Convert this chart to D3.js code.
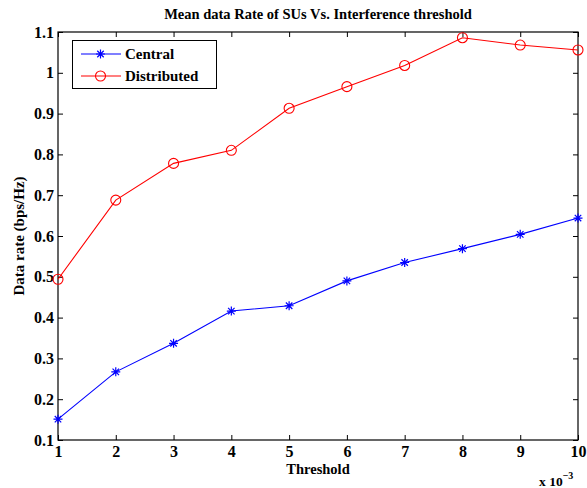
<!DOCTYPE html>
<html>
<head>
<meta charset="utf-8">
<script src="https://cdn.jsdelivr.net/npm/d3@7"></script>
<style>
  html, body { margin: 0; padding: 0; background: #fff; }
  svg { display: block; }
  text { font-family: "Liberation Serif", "Times New Roman", serif; font-weight: bold; fill: #000; }
</style>
</head>
<body>
<svg id="chart" width="587" height="488"></svg>
<script>
// Threshold values (x 10^-3)
const thresholds = [1, 2, 3, 4, 5, 6, 7, 8, 9, 10];
// Mean data rate (bps/Hz)
const centralRate = [0.151, 0.267, 0.337, 0.416, 0.429, 0.490, 0.535, 0.569, 0.604, 0.644];
const distributedRate = [0.494, 0.688, 0.778, 0.810, 0.913, 0.966, 1.018, 1.086, 1.068, 1.056];
const xTicks = [1, 2, 3, 4, 5, 6, 7, 8, 9, 10];
const yTicks = [0.1, 0.2, 0.3, 0.4, 0.5, 0.6, 0.7, 0.8, 0.9, 1.0, 1.1];
const seriesNames = ["Central", "Distributed"];

const svg = d3.select("#chart");
const m = { left: 58, right: 578, top: 32, bottom: 440 };

const x = d3.scaleLinear().domain([1, 10]).range([m.left, m.right]);
const y = d3.scaleLinear().domain([0.1, 1.1]).range([m.bottom, m.top]);

const tickLen = 5;
const yFmt = v => (Math.abs(v - 1) < 1e-9 ? "1" : d3.format(".1f")(v));

// Axes with inward ticks on all four sides
const bottomAxis = d3.axisBottom(x).tickValues(xTicks).tickSize(-tickLen).tickPadding(6).tickFormat(d3.format("d"));
const topAxis = d3.axisTop(x).tickValues(xTicks).tickSize(-tickLen).tickFormat("");
const leftAxis = d3.axisLeft(y).tickValues(yTicks).tickSize(-tickLen).tickPadding(4).tickFormat(yFmt);
const rightAxis = d3.axisRight(y).tickValues(yTicks).tickSize(-tickLen).tickFormat("");

function styleAxis(g) {
  g.select(".domain").remove();
  g.selectAll(".tick line").attr("stroke", "#000").attr("stroke-width", 1);
  g.selectAll(".tick text").style("font-size", "16px").style("font-family", "Liberation Serif").style("font-weight", "bold");
}

svg.append("g").attr("transform", `translate(0,${m.bottom})`).call(bottomAxis).call(styleAxis);
svg.append("g").attr("transform", `translate(0,${m.top})`).call(topAxis).call(styleAxis);
svg.append("g").attr("transform", `translate(${m.left},0)`).call(leftAxis).call(styleAxis);
svg.append("g").attr("transform", `translate(${m.right},0)`).call(rightAxis).call(styleAxis);

// Plot box
svg.append("rect")
  .attr("x", m.left).attr("y", m.top)
  .attr("width", m.right - m.left).attr("height", m.bottom - m.top)
  .attr("fill", "none").attr("stroke", "#000").attr("stroke-width", 1.2);

const line = d3.line().x(d => x(d[0])).y(d => y(d[1]));

function asterisk(g, r) {
  const p = `M${-r},0L${r},0M0,${-r}L0,${r}` +
    `M${-r * 0.72},${-r * 0.72}L${r * 0.72},${r * 0.72}M${-r * 0.72},${r * 0.72}L${r * 0.72},${-r * 0.72}`;
  g.append("path").attr("d", p).attr("stroke", "blue").attr("stroke-width", 1.2).attr("fill", "none");
}
function circle(g, r) {
  g.append("circle").attr("r", r).attr("fill", "none").attr("stroke", "red").attr("stroke-width", 1.1);
}

// Central series
const cData = thresholds.map((t, i) => [t, centralRate[i]]);
svg.append("path").datum(cData).attr("d", line).attr("fill", "none").attr("stroke", "blue").attr("stroke-width", 1.1);
cData.forEach(d => asterisk(svg.append("g").attr("transform", `translate(${x(d[0])},${y(d[1])})`), 4.5));

// Distributed series
const dData = thresholds.map((t, i) => [t, distributedRate[i]]);
svg.append("path").datum(dData).attr("d", line).attr("fill", "none").attr("stroke", "red").attr("stroke-width", 1.1);
dData.forEach(d => circle(svg.append("g").attr("transform", `translate(${x(d[0])},${y(d[1])})`), 5));

// Legend
const lg = svg.append("g");
lg.append("rect").attr("x", 72.5).attr("y", 40.5).attr("width", 144).attr("height", 48)
  .attr("fill", "#fff").attr("stroke", "#000").attr("stroke-width", 1);
[[54, "blue", asterisk, 4.5], [76, "red", circle, 5]].forEach(([ly, col, mk, r], i) => {
  lg.append("line").attr("x1", 81).attr("x2", 121).attr("y1", ly).attr("y2", ly).attr("stroke", col).attr("stroke-width", 1.1);
  mk(lg.append("g").attr("transform", `translate(100.5,${ly})`), r);
  lg.append("text").attr("x", 125).attr("y", ly + 5).style("font-size", "15px").text(seriesNames[i]);
});

// Title and axis labels
svg.append("text").attr("x", (m.left + m.right) / 2).attr("y", 19).attr("text-anchor", "middle")
  .style("font-size", "14.5px").text("Mean data Rate of SUs Vs. Interference threshold");
svg.append("text").attr("x", (m.left + m.right) / 2).attr("y", 474).attr("text-anchor", "middle")
  .style("font-size", "14.5px").text("Threshold");
svg.append("text").attr("transform", `translate(24,${(m.top + m.bottom) / 2}) rotate(-90)`).attr("text-anchor", "middle")
  .style("font-size", "15px").text("Data rate (bps/Hz)");
const ex = svg.append("text").attr("x", 539).attr("y", 486).style("font-size", "13.5px");
ex.append("tspan").text("x 10");
ex.append("tspan").attr("dy", -7).style("font-size", "10px").text("\u22123");
</script>
</body>
</html>
